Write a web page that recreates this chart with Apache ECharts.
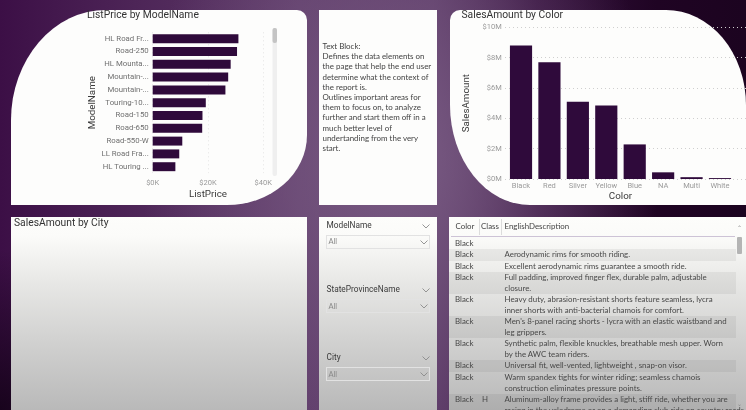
<!DOCTYPE html>
<html>
<head>
<meta charset="utf-8">
<script src="https://cdn.jsdelivr.net/npm/echarts@6/dist/echarts.min.js"></script>
<style>
  html, body { margin:0; padding:0; width:746px; height:410px; overflow:hidden; }
  body {
    position:relative;
    background:
      radial-gradient(ellipse 260px 330px at 400px 160px, rgba(122,92,132,0.95) 0%, rgba(122,92,132,0) 100%),
      radial-gradient(ellipse 160px 160px at 0px 410px, rgba(20,2,24,0.9) 0%, rgba(20,2,24,0) 100%),
      linear-gradient(to right, #3c0f46 0%, #4d2557 18%, #5f3c6a 40%, #5a3865 58%, #34103c 72%, #1f0423 88%, #1c0420 100%);
    font-family: Lato, 'Open Sans', sans-serif;
  }
  .panel { position:absolute; background:#fdfdfc; }
  .grad { background: linear-gradient(to bottom, #fdfdfb 0%, #fbfbf9 10%, #e9e9e7 32%, #d2d2d1 63%, #b9b9b9 100%); }
  #chart { position:absolute; left:0; top:0; width:746px; height:410px; z-index:5; }
  .tb { position:absolute; left:322.5px; top:41px; font-size:7.95px; line-height:10.2px; color:#424242; white-space:pre; z-index:6; }
  .sl-label { position:absolute; font-size:8.3px; color:#3a3a3a; z-index:6; font-family: Roboto, sans-serif; }
  .sl-box { position:absolute; left:325.5px; width:104px; height:14px; border:1px solid #e2e2e2; box-sizing:border-box; z-index:6; }
  .sl-all { position:absolute; left:2px; top:1.5px; font-size:7.5px; color:#8a8a8a; }
  .chev { position:absolute; z-index:7; }
  .th { position:absolute; top:221px; font-size:7.9px; color:#444; z-index:6; }
  .row { position:absolute; left:449px; width:287px; z-index:6; }
  .row.shade { background:rgba(0,0,0,0.055); }
  .cell { position:absolute; top:0; font-size:7.9px; line-height:11px; color:#474747; white-space:pre; }
</style>
</head>
<body>
<!-- panels -->
<div class="panel" style="left:11px;top:10px;width:296px;height:195px;border-radius:95px 10px 80px 0 / 110px 10px 70px 0;"></div>
<div class="panel" style="left:319px;top:10px;width:118px;height:195px;"></div>
<div class="panel" style="left:450px;top:10px;width:296px;height:195px;border-radius:10px 80px 0 80px / 10px 95px 0 100px;"></div>
<div class="panel grad" style="left:11px;top:217px;width:296px;height:193px;"></div>
<div class="panel grad" style="left:319px;top:217px;width:118px;height:193px;"></div>
<div class="panel grad" style="left:449px;top:217px;width:297px;height:193px;"></div>

<div id="textblock" class="tb"></div>
<div id="slicers"></div>
<div id="table"></div>

<div id="chart"></div>

<script>
// ---------- data ----------
const modelNames = ['HL Road Fr...', 'Road-250', 'HL Mounta...', 'Mountain-...', 'Mountain-...', 'Touring-10...', 'Road-150', 'Road-650', 'Road-550-W', 'LL Road Fra...', 'HL Touring ...'];
const listPrices = [31000, 30500, 28200, 27300, 26300, 19200, 18000, 17900, 10700, 9600, 8200];
const listPriceTicks = ['$0K', '$20K', '$40K'];

const colorNames = ['Black', 'Red', 'Silver', 'Yellow', 'Blue', 'NA', 'Multi', 'White'];
const colorSales = [8800000, 7700000, 5100000, 4850000, 2280000, 440000, 120000, 60000];

const textBlockLines = [
  'Text Block:',
  'Defines the data elements on',
  'the page that help the end user',
  'determine what the context of',
  'the report is.',
  'Outlines important areas for',
  'them to focus on, to analyze',
  'further and start them off in a',
  'much better level of',
  'undertanding from the very',
  'start.'
];

const slicerNames = ['ModelName', 'StateProvinceName', 'City'];
const slicerValues = ['All', 'All', 'All'];

const tableHeaders = ['Color', 'Class', 'EnglishDescription'];
const tableColors = ['Black', 'Black', 'Black', 'Black', 'Black', 'Black', 'Black', 'Black', 'Black', 'Black'];
const tableClasses = ['', '', '', '', '', '', '', '', '', 'H'];
const tableDescriptions = [
  '',
  'Aerodynamic rims for smooth riding.',
  'Excellent aerodynamic rims guarantee a smooth ride.',
  'Full padding, improved finger flex, durable palm, adjustable\nclosure.',
  'Heavy duty, abrasion-resistant shorts feature seamless, lycra\ninner shorts with anti-bacterial chamois for comfort.',
  "Men's 8-panel racing shorts - lycra with an elastic waistband and\nleg grippers.",
  'Synthetic palm, flexible knuckles, breathable mesh upper. Worn\nby the AWC team riders.',
  'Universal fit, well-vented, lightweight , snap-on visor.',
  'Warm spandex tights for winter riding; seamless chamois\nconstruction eliminates pressure points.',
  'Aluminum-alloy frame provides a light, stiff ride, whether you are\nracing in the velodrome or on a demanding club ride on country roads.'
];

// ---------- html parts ----------
document.getElementById('textblock').textContent = textBlockLines.join('\n');

function chevron(x, y) {
  return '<svg class="chev" style="left:' + x + 'px;top:' + y + 'px" width="8" height="5"><polyline points="0.5,0.5 4,4 7.5,0.5" fill="none" stroke="#8a8a8a" stroke-width="0.9"/></svg>';
}
(function () {
  const labelTops = [219.5, 283.5, 351.5];
  const boxTops = [234.5, 299, 367];
  let h = '';
  slicerNames.forEach((n, i) => {
    h += '<div class="sl-label" style="left:326.5px;top:' + labelTops[i] + 'px">' + n + '</div>';
    h += chevron(422, labelTops[i] + 4);
    h += '<div class="sl-box" style="top:' + boxTops[i] + 'px"><span class="sl-all">' + slicerValues[i] + '</span></div>';
    h += chevron(420, boxTops[i] + 5);
  });
  document.getElementById('slicers').innerHTML = h;
})();

(function () {
  const esc = s => s.replace(/&/g, '&amp;').replace(/</g, '&lt;');
  let h = '';
  const hx = [455.5, 481, 504.5];
  tableHeaders.forEach((t, i) => { h += '<div class="th" style="left:' + hx[i] + 'px">' + t + '</div>'; });
  h += '<div style="position:absolute;left:478.5px;top:219px;width:1px;height:16px;background:#dcdcdc;z-index:6"></div>';
  h += '<div style="position:absolute;left:501px;top:219px;width:1px;height:16px;background:#dcdcdc;z-index:6"></div>';
  h += '<div style="position:absolute;left:451px;top:235.5px;width:284px;height:1px;background:#cdc3d6;z-index:6"></div>';
  let top = 237.5;
  tableDescriptions.forEach((d, i) => {
    const lines = d.split('\n').length;
    const rh = lines > 1 ? 22 : 11.5;
    h += '<div class="row' + (i % 2 === 1 ? ' shade' : '') + '" style="top:' + top + 'px;height:' + rh + 'px">' +
      '<div class="cell" style="left:6px">' + tableColors[i] + '</div>' +
      '<div class="cell" style="left:33px">' + tableClasses[i] + '</div>' +
      '<div class="cell" style="left:55.5px">' + esc(d) + '</div></div>';
    top += rh;
  });
  // scrollbar
  h += '<div style="position:absolute;left:737px;top:224px;font-size:6px;color:#888;z-index:6">&#8963;</div>';
  h += '<div style="position:absolute;left:737px;top:237px;width:4.5px;height:17px;background:#b4b4b4;border-radius:1px;z-index:6"></div>';
  h += '<div style="position:absolute;left:737px;top:400px;font-size:6px;color:#888;z-index:6">&#8964;</div>';
  document.getElementById('table').innerHTML = h;
})();

// ---------- chart ----------
const chart = echarts.init(document.getElementById('chart'), null, { renderer: 'canvas' });
const barColor = '#2f0a3b';
const titleStyle = { fontSize: 10.3, color: '#333', fontWeight: 'normal', fontFamily: 'Roboto' };
const tickStyle = { fontSize: 7.5, color: '#9a9a9a', fontFamily: 'Roboto' };
const nameStyle = { fontSize: 9.8, color: '#3a3a3a', fontWeight: 'normal', fontFamily: 'Roboto' };

chart.setOption({
  backgroundColor: 'transparent',
  animation: false,
  title: [
    { text: 'ListPrice by ModelName', left: 87, top: 10, padding: 0, textStyle: titleStyle },
    { text: 'SalesAmount by Color', left: 461.5, top: 10, padding: 0, textStyle: titleStyle },
    { text: 'SalesAmount by City', left: 14, top: 218, padding: 0, textStyle: titleStyle }
  ],
  grid: [
    { left: 152.7, top: 32.3, width: 110.6, height: 140.8 },
    { left: 505, top: 27.3, width: 241, height: 151.7 },
    { left: 506.8, top: 27.3, width: 227.4, height: 151.7 }
  ],
  xAxis: [
    {
      gridIndex: 0, type: 'value', min: 0, max: 40000, interval: 20000,
      axisLine: { show: false }, axisTick: { show: false },
      splitLine: { show: true, lineStyle: { color: '#e4e4e4', type: [1, 3] } },
      axisLabel: { ...tickStyle, margin: 6, formatter: v => listPriceTicks[v / 20000] },
      name: 'ListPrice', nameLocation: 'middle', nameGap: 16, nameTextStyle: nameStyle
    },
    { gridIndex: 1, type: 'value', show: false, min: 0, max: 1 },
    {
      gridIndex: 2, type: 'category', data: colorNames,
      axisLine: { show: false }, axisTick: { show: false },
      axisLabel: { ...tickStyle, margin: 3, interval: 0 },
      name: 'Color', nameLocation: 'middle', nameGap: 13, nameTextStyle: nameStyle
    }
  ],
  yAxis: [
    {
      gridIndex: 0, type: 'category', data: modelNames, inverse: true,
      axisLine: { show: false }, axisTick: { show: false },
      axisLabel: { fontSize: 7.8, color: '#707070', fontFamily: 'Roboto', margin: 4, interval: 0 },
      name: 'ModelName', nameLocation: 'middle', nameGap: 55, nameTextStyle: nameStyle
    },
    {
      gridIndex: 1, type: 'value', min: 0, max: 10000000, interval: 2000000,
      axisLine: { show: false }, axisTick: { show: false }, axisLabel: { show: false },
      splitLine: { show: true, lineStyle: { color: '#cfcfcf', type: [1, 3] } }
    },
    {
      gridIndex: 2, type: 'value', min: 0, max: 10000000, interval: 2000000,
      axisLine: { show: false }, axisTick: { show: false }, splitLine: { show: false },
      axisLabel: { ...tickStyle, margin: 5, formatter: v => '$' + (v / 1000000) + 'M' },
      name: 'SalesAmount', nameLocation: 'middle', nameGap: 35, nameTextStyle: nameStyle
    }
  ],
  series: [
    {
      type: 'bar', xAxisIndex: 0, yAxisIndex: 0, data: listPrices,
      barCategoryGap: '30%', itemStyle: { color: barColor }
    },
    {
      type: 'bar', xAxisIndex: 2, yAxisIndex: 2, data: colorSales,
      barCategoryGap: '22%', itemStyle: { color: barColor }
    }
  ],
  graphic: [
    { type: 'rect', shape: { x: 272.5, y: 28, width: 4.5, height: 148, r: 2 }, style: { fill: '#efefef' } },
    { type: 'rect', shape: { x: 272.5, y: 28, width: 4.5, height: 15, r: 2 }, style: { fill: '#c4c4c4' } }
  ]
});
</script>
</body>
</html>
